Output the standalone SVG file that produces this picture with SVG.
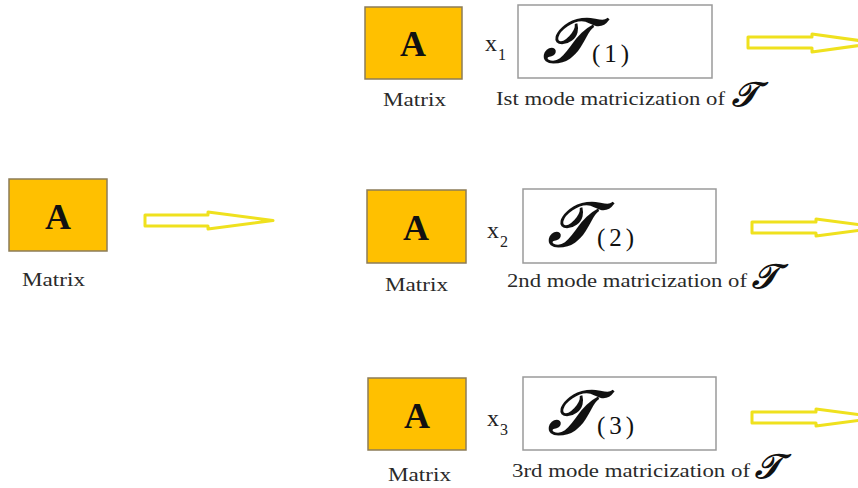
<svg xmlns="http://www.w3.org/2000/svg" width="858" height="488" viewBox="0 0 858 488">
<style>
.mat{fill:#FFC000;stroke:#8c7c58;stroke-width:1.5}
.tbox{fill:#fff;stroke:#9a9a9a;stroke-width:1.5}
.A{font-family:"Liberation Serif",serif;font-weight:bold;font-size:36px;fill:#111;text-anchor:middle}
.lbl{font-family:"Liberation Serif",serif;font-size:18px;fill:#2a2a2a}
.x{font-family:"Liberation Serif",serif;font-size:24px;fill:#222}
.xs{font-family:"Liberation Serif",serif;font-size:16px;fill:#222}
.T{font-family:"DejaVu Serif","Liberation Serif",serif;font-style:italic;font-weight:bold;font-size:62px;fill:#111}
.Ts{font-family:"DejaVu Serif","Liberation Serif",serif;font-style:italic;font-weight:bold;font-size:34px;fill:#111}
.sub{font-family:"Liberation Serif",serif;font-size:25px;fill:#111;letter-spacing:4px}
.arr{fill:#fff;stroke:#EFE11E;stroke-width:3;stroke-linejoin:round}
</style>
<g id="matrix-left">
<rect class="mat" x="9" y="179" width="98" height="72"/>
<text class="A" x="58" y="229">A</text>
<text class="lbl" x="22" y="286" textLength="63" lengthAdjust="spacingAndGlyphs">Matrix</text>
</g>
<g id="row1">
<rect class="mat" x="365" y="7" width="97" height="72"/>
<text class="A" x="413" y="56">A</text>
<text class="lbl" x="383" y="106" textLength="63" lengthAdjust="spacingAndGlyphs">Matrix</text>
<text class="x" x="485" y="51">x</text><text class="xs" x="498" y="60">1</text>
<rect class="tbox" x="518" y="5" width="194" height="73"/>
<text class="T" x="543" y="62">𝒯</text>
<text class="sub" x="592" y="62">(1)</text>
<text class="lbl" x="496" y="105" textLength="229" lengthAdjust="spacingAndGlyphs">Ist mode matricization of</text>
<text class="Ts" x="732" y="106">𝒯</text>
</g>
<g id="row2">
<rect class="mat" x="367" y="190" width="99" height="73"/>
<text class="A" x="416" y="240">A</text>
<text class="lbl" x="385" y="291" textLength="63" lengthAdjust="spacingAndGlyphs">Matrix</text>
<text class="x" x="487" y="238">x</text><text class="xs" x="500" y="247">2</text>
<rect class="tbox" x="523" y="189" width="193" height="74"/>
<text class="T" x="548" y="246">𝒯</text>
<text class="sub" x="597" y="246">(2)</text>
<text class="lbl" x="507" y="287" textLength="240" lengthAdjust="spacingAndGlyphs">2nd mode matricization of</text>
<text class="Ts" x="752" y="288">𝒯</text>
</g>
<g id="row3">
<rect class="mat" x="368" y="378" width="98" height="72"/>
<text class="A" x="417" y="428">A</text>
<text class="lbl" x="388" y="481" textLength="63" lengthAdjust="spacingAndGlyphs">Matrix</text>
<text class="x" x="487" y="426">x</text><text class="xs" x="500" y="435">3</text>
<rect class="tbox" x="523" y="377" width="193" height="73"/>
<text class="T" x="548" y="434">𝒯</text>
<text class="sub" x="597" y="434">(3)</text>
<text class="lbl" x="512" y="477" textLength="238" lengthAdjust="spacingAndGlyphs">3rd mode matricization of</text>
<text class="Ts" x="755" y="478">𝒯</text>
</g>
<g id="connectors">
<path class="arr" d="M145 215 H208 V212 L273 220.5 L208 229 V226 H145 Z"/>
<path class="arr" d="M748 37 H812 V34 L877 43 L812 52 V48 H748 Z"/>
<path class="arr" d="M752 222 H816 V219 L881 227.5 L816 236 V233 H752 Z"/>
<path class="arr" d="M752 412 H816 V409 L881 417.5 L816 426 V423 H752 Z"/>
</g>
</svg>
